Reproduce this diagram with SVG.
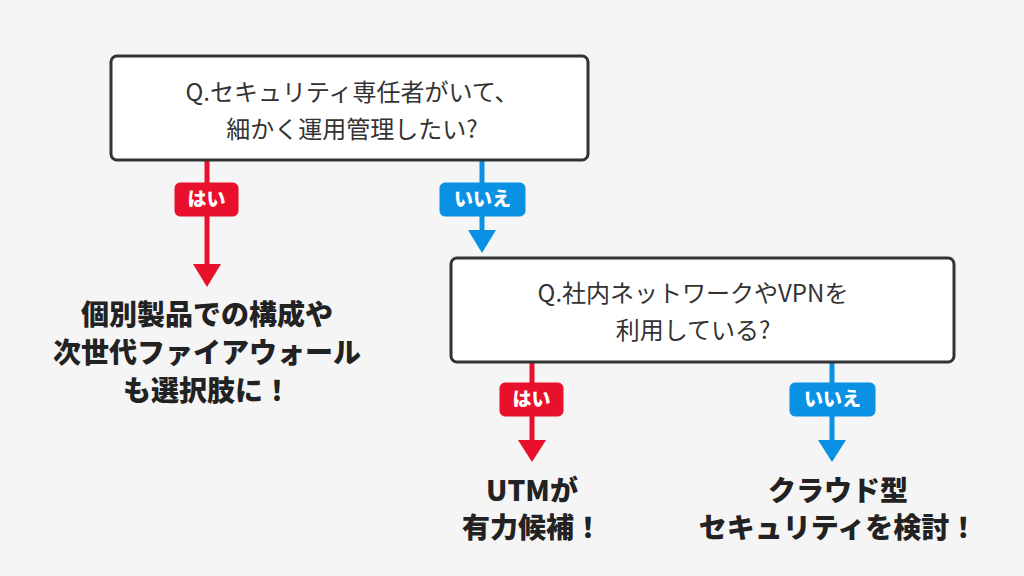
<svg xmlns="http://www.w3.org/2000/svg" width="1024" height="576" viewBox="0 0 1024 576">
<style>
.box{fill:#fff;stroke:#333;stroke-width:3}
.q{font-family:"Noto Sans CJK JP",sans-serif;font-size:24px;fill:#333;text-anchor:middle}
.a{font-family:"Noto Sans CJK JP",sans-serif;font-size:28px;font-weight:900;fill:#222;text-anchor:middle}
.lb{font-family:"Noto Sans CJK JP",sans-serif;font-size:19px;font-weight:900;fill:#fff;text-anchor:middle}
.r{stroke:#e8102a;fill:#e8102a}
.b{stroke:#0a91e3;fill:#0a91e3}
</style>
<rect width="1024" height="576" fill="#f5f5f5"/>
<g id="connectors">
<line class="r" x1="207" y1="161" x2="207" y2="266" stroke-width="5"/>
<polygon class="r" points="193,264 221,264 207,287" stroke-width="0"/>
<rect class="r" x="175" y="183" width="63" height="33" rx="5"/>
<text class="lb" x="206.5" y="206">はい</text>
<line class="b" x1="482" y1="161" x2="482" y2="232" stroke-width="5"/>
<polygon class="b" points="468,230 496,230 482,253" stroke-width="0"/>
<rect class="b" x="440" y="183" width="85" height="33" rx="5"/>
<text class="lb" x="482.5" y="206">いいえ</text>
<line class="r" x1="532" y1="363" x2="532" y2="442" stroke-width="5"/>
<polygon class="r" points="518,440 546,440 532,462" stroke-width="0"/>
<rect class="r" x="500" y="383" width="63" height="33" rx="5"/>
<text class="lb" x="531.5" y="406">はい</text>
<line class="b" x1="832" y1="363" x2="832" y2="442" stroke-width="5"/>
<polygon class="b" points="818,440 846,440 832,462" stroke-width="0"/>
<rect class="b" x="790" y="383" width="85" height="33" rx="5"/>
<text class="lb" x="832.5" y="406">いいえ</text>
</g>
<g id="q1">
<rect class="box" x="111" y="56" width="477" height="104" rx="6"/>
<text class="q" x="352" y="101">Q.セキュリティ専任者がいて、</text>
<text class="q" x="352" y="138">細かく運用管理したい?</text>
</g>
<g id="q2">
<rect class="box" x="451" y="258" width="503" height="104" rx="6"/>
<text class="q" x="693" y="302">Q.社内ネットワークやVPNを</text>
<text class="q" x="693" y="339">利用している?</text>
</g>
<g id="a1">
<text class="a" x="207" y="325">個別製品での構成や</text>
<text class="a" x="207" y="363">次世代ファイアウォール</text>
<text class="a" x="207" y="401">も選択肢に！</text>
</g>
<g id="a2">
<text class="a" x="532" y="501">UTMが</text>
<text class="a" x="532" y="538">有力候補！</text>
</g>
<g id="a3">
<text class="a" x="838" y="501">クラウド型</text>
<text class="a" x="838" y="538">セキュリティを検討！</text>
</g>
</svg>
